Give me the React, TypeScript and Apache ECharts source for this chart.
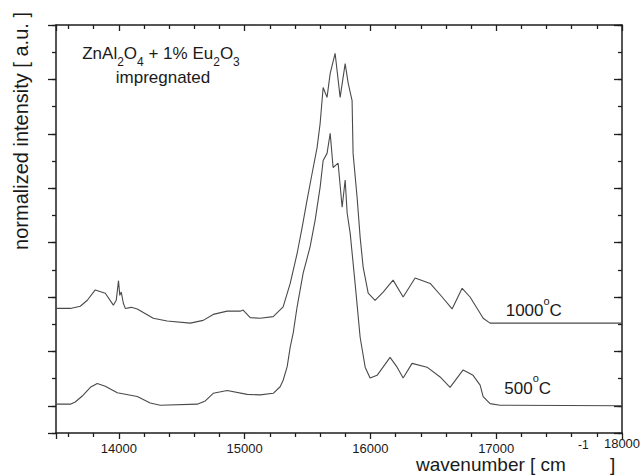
import React, { useEffect, useRef } from "react";
import * as echarts from "echarts";

const FONT = "'Liberation Sans', Arial, sans-serif";

// wavenumber (cm^-1) and normalized intensity, 1000 °C sample (upper trace)
const upperWn = [13500, 13614, 13693, 13749, 13812, 13892, 13956, 13979, 13997, 14007, 14019, 14035, 14051, 14099, 14146, 14273, 14384, 14567, 14670, 14750, 14861, 14964, 14988, 15044, 15123, 15227, 15306, 15362, 15417, 15457, 15496, 15536, 15576, 15600, 15624, 15655, 15680, 15719, 15759, 15799, 15823, 15854, 15862, 15894, 15918, 15942, 15982, 16037, 16101, 16180, 16260, 16355, 16475, 16570, 16649, 16729, 16792, 16872, 16896, 16951, 17190, 17508, 18000];
const upperVal = [1.79, 1.79, 1.83, 1.94, 2.13, 2.07, 1.85, 1.94, 2.3, 2.03, 2.09, 1.89, 1.79, 1.81, 1.78, 1.61, 1.56, 1.52, 1.57, 1.68, 1.74, 1.74, 1.76, 1.62, 1.61, 1.64, 1.82, 2.25, 2.8, 3.28, 3.78, 4.27, 4.75, 5.19, 5.85, 5.67, 6.11, 6.48, 5.67, 6.29, 5.93, 5.61, 4.64, 3.83, 3.1, 2.55, 2.07, 1.94, 2.09, 2.31, 2.0, 2.35, 2.25, 2.0, 1.78, 2.16, 2.0, 1.7, 1.61, 1.52, 1.52, 1.52, 1.52];

// 500 °C sample (lower trace)
const lowerWn = [13500, 13614, 13653, 13709, 13773, 13828, 13892, 13987, 14146, 14249, 14329, 14623, 14687, 14750, 14861, 15020, 15123, 15227, 15282, 15306, 15338, 15362, 15386, 15417, 15465, 15520, 15560, 15600, 15624, 15655, 15680, 15703, 15743, 15775, 15799, 15815, 15839, 15878, 15918, 15958, 15997, 16053, 16156, 16212, 16260, 16331, 16450, 16554, 16633, 16737, 16816, 16872, 16896, 16951, 17030, 18000];
const lowerVal = [0.03, 0.03, 0.07, 0.18, 0.34, 0.41, 0.36, 0.24, 0.17, 0.05, 0.01, 0.03, 0.09, 0.23, 0.28, 0.21, 0.2, 0.23, 0.35, 0.47, 0.72, 1.08, 1.34, 1.82, 2.44, 2.92, 3.41, 4.02, 4.51, 4.64, 5.01, 4.38, 4.46, 3.65, 4.15, 3.54, 3.17, 2.25, 1.26, 0.71, 0.51, 0.56, 0.89, 0.71, 0.51, 0.78, 0.71, 0.53, 0.34, 0.66, 0.56, 0.38, 0.17, 0.04, 0.01, 0.0];

const xMin = 13500;
const xMax = 18000;
const yMin = -0.5;
const yMax = 7;

const yTitle = "normalized intensity [ a.u. ]";
const xTitleMain = "wavenumber [ cm";
const xTitleSup = "-1";
const xTitleEnd = "]";
const annotationLine1 = "{m|ZnAl}{u|2}{m|O}{u|4}{m| + 1% Eu}{u|2}{m|O}{u|3}";
const annotationLine2 = "impregnated";
const label1000 = "{m|1000}{s|o}{m|C}";
const label500 = "{m|500}{s|o}{m|C}";

export default function App() {
  const ref = useRef<HTMLDivElement>(null);

  useEffect(() => {
    if (!ref.current) return;
    const chart = echarts.init(ref.current, null, { renderer: "svg" });
    const axisColor = "#1e1e1e";
    const lineW = 1.5;
    const noSplit = { show: false };
    const textColor = "#1a1a1a";

    const decorX = (position: "bottom" | "top", inside: boolean, labels: boolean) => ({
      type: "value",
      position,
      min: -xMax,
      max: -xMin,
      inverse: true,
      interval: 1000,
      splitLine: noSplit,
      axisLine: { show: true, onZero: false, lineStyle: { color: axisColor, width: lineW } },
      axisTick: { show: true, inside, length: 6, lineStyle: { color: axisColor, width: 1.3 } },
      minorTick: { show: true, splitNumber: 5, length: 4, lineStyle: { color: axisColor, width: 1.3 } },
      axisLabel: labels
        ? {
            show: true,
            margin: 10,
            fontSize: 13,
            lineHeight: 10,
            fontFamily: FONT,
            color: textColor,
            formatter: (u: number) => {
              const w = Math.round(-u);
              if (w % 1000 !== 0 || w === 18000) return "";
              return String(w);
            },
          }
        : { show: false },
    });

    const mainY = (position: "left" | "right", inside: boolean) => ({
      type: "value",
      position,
      min: yMin,
      max: yMax,
      interval: 0.5,
      splitLine: noSplit,
      axisLine: { show: true, onZero: false, lineStyle: { color: axisColor, width: lineW } },
      axisTick: { show: true, inside, length: 4, lineStyle: { color: axisColor, width: 1.3 } },
      axisLabel: { show: false },
    });

    const majorY = (position: "left" | "right", inside: boolean) => ({
      type: "value",
      position,
      min: -yMax,
      max: -yMin,
      inverse: true,
      interval: 1,
      splitLine: noSplit,
      axisLine: { show: false, onZero: false },
      axisTick: { show: true, inside, length: 8, lineStyle: { color: axisColor, width: 1.3 } },
      axisLabel: { show: false },
    });

    const plainText = (text: string, x: number, y: number, fontSize: number, align: string, lineHeight?: number) => ({
      type: "text",
      x,
      y,
      style: {
        text,
        fontSize,
        lineHeight: lineHeight || fontSize,
        fontFamily: FONT,
        fill: textColor,
        align,
        verticalAlign: "middle",
      },
    });

    const degreeLabel = (text: string, x: number, y: number) => ({
      type: "text",
      x,
      y,
      style: {
        text,
        fontFamily: FONT,
        fill: textColor,
        align: "left",
        verticalAlign: "bottom",
        rich: {
          m: { fontSize: 17, lineHeight: 17, verticalAlign: "bottom", fontFamily: FONT, fill: textColor },
          s: { fontSize: 11, lineHeight: 11, verticalAlign: "bottom", padding: [0, 0, 13, 0], fontFamily: FONT, fill: textColor },
        },
      },
    });

    const option: any = {
      animation: false,
      backgroundColor: "#ffffff",
      grid: { left: 56, right: 21, top: 25, bottom: 42, containLabel: false },
      xAxis: [
        {
          type: "value",
          show: false,
          min: xMin,
          max: xMax,
          position: "bottom",
          splitLine: noSplit,
          axisLine: { onZero: false },
        },
        decorX("bottom", false, true),
        decorX("top", true, false),
      ],
      yAxis: [mainY("left", false), majorY("left", false), mainY("right", true), majorY("right", true)],
      series: [
        {
          type: "line",
          name: "1000 °C",
          xAxisIndex: 0,
          yAxisIndex: 0,
          showSymbol: false,
          symbol: "none",
          data: upperWn.map((w, i) => [w, upperVal[i]]),
          lineStyle: { color: "#4a4a4a", width: 1.1 },
        },
        {
          type: "line",
          name: "500 °C",
          xAxisIndex: 0,
          yAxisIndex: 0,
          showSymbol: false,
          symbol: "none",
          data: lowerWn.map((w, i) => [w, lowerVal[i]]),
          lineStyle: { color: "#4a4a4a", width: 1.1 },
        },
      ],
      graphic: [
        {
          type: "text",
          x: 21,
          y: 131,
          rotation: Math.PI / 2,
          style: {
            text: yTitle,
            fontSize: 20,
            fontFamily: FONT,
            fill: textColor,
            align: "center",
            verticalAlign: "middle",
          },
        },
        plainText(xTitleMain, 416, 464, 19, "left", 11),
        plainText(xTitleSup, 578, 444.5, 12, "left", 10),
        plainText(xTitleEnd, 610, 464, 19, "left", 11),
        plainText("18000", 622, 443, 13, "center", 10),
        {
          type: "text",
          x: 161,
          y: 45,
          style: {
            text: annotationLine1,
            fontFamily: FONT,
            fill: textColor,
            align: "center",
            verticalAlign: "top",
            rich: {
              m: { fontSize: 17, lineHeight: 17, verticalAlign: "top", fontFamily: FONT, fill: textColor },
              u: { fontSize: 12, lineHeight: 10, verticalAlign: "top", padding: [11, 0, 0, 0], fontFamily: FONT, fill: textColor },
            },
          },
        },
        plainText(annotationLine2, 163, 77.5, 17, "center", 12),
        degreeLabel(label1000, 505.7, 319),
        degreeLabel(label500, 504.3, 396.5),
      ],
    };

    chart.setOption(option);
    return () => {
      chart.dispose();
    };
  }, []);

  return (
    <div
      ref={ref}
      style={{ position: "fixed", left: 0, top: 0, width: 643, height: 475, background: "#fff" }}
    />
  );
}
